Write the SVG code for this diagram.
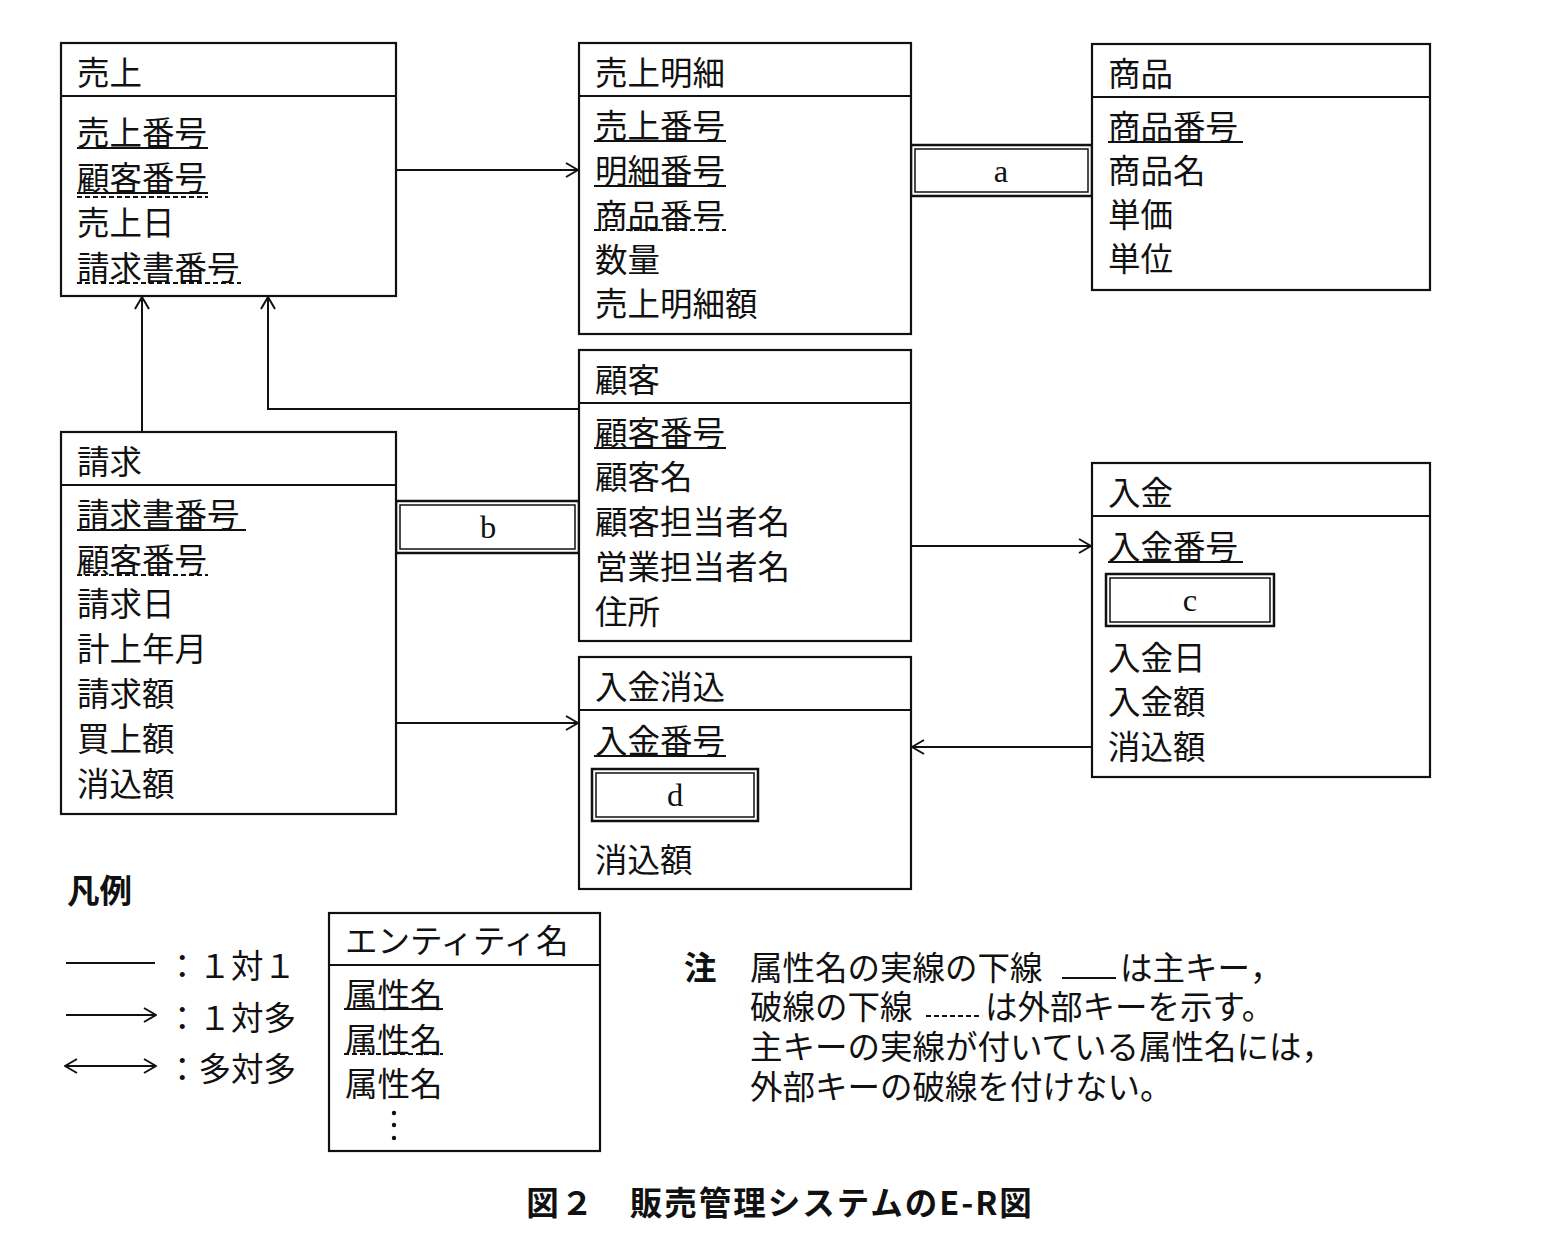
<svg xmlns="http://www.w3.org/2000/svg" width="1556" height="1248" viewBox="0 0 1556 1248">
<style>
text{font-family:"Noto Sans CJK JP","Liberation Sans",sans-serif;font-size:32.5px;fill:#111;dominant-baseline:central}
.box{fill:#fff;stroke:#111;stroke-width:2.2}
.ln{stroke:#111;stroke-width:2;fill:none}
.pk{stroke:#111;stroke-width:2}
.fk{stroke:#111;stroke-width:2;stroke-dasharray:5 3}
.lat{font-family:"Liberation Serif",serif}
</style>
<defs>
<marker id="ar" viewBox="0 0 14 16" refX="13" refY="8" markerWidth="14" markerHeight="16" markerUnits="userSpaceOnUse" orient="auto-start-reverse">
<path d="M1,1 L13,8 L1,15" fill="none" stroke="#111" stroke-width="2"/>
</marker>
</defs>
<rect width="1556" height="1248" fill="#fff"/>

<g id="connectors">
<line class="ln" x1="396" y1="170" x2="578" y2="170" marker-end="url(#ar)"/>
<line class="ln" x1="142" y1="432" x2="142" y2="297" marker-end="url(#ar)"/>
<polyline class="ln" points="579,409 268,409 268,297" marker-end="url(#ar)"/>
<line class="ln" x1="911" y1="546" x2="1091" y2="546" marker-end="url(#ar)"/>
<line class="ln" x1="396" y1="723" x2="578" y2="723" marker-end="url(#ar)"/>
<line class="ln" x1="1092" y1="747" x2="912" y2="747" marker-end="url(#ar)"/>
<g id="blank-a"><rect x="911" y="145" width="181" height="51" fill="#fff" stroke="#111" stroke-width="2.5"/><rect x="915" y="149" width="173" height="43" fill="none" stroke="#111" stroke-width="1.5"/><text class="lat" x="1001" y="171" text-anchor="middle">a</text></g>
<g id="blank-b"><rect x="396" y="501" width="183" height="52" fill="#fff" stroke="#111" stroke-width="2.5"/><rect x="400" y="505" width="175" height="44" fill="none" stroke="#111" stroke-width="1.5"/><text class="lat" x="488" y="527" text-anchor="middle">b</text></g>
</g>

<g id="uriage">
<rect class="box" x="61" y="43" width="335" height="253"/><line class="ln" x1="61" y1="96" x2="396" y2="96"/>
<text x="77" y="70">売上</text>
<text x="77" y="130">売上番号</text><line class="pk" x1="77" y1="148" x2="208" y2="148"/>
<text x="77" y="175">顧客番号</text><line class="pk" x1="77" y1="193" x2="208" y2="193"/><line class="fk" x1="77" y1="197" x2="208" y2="197"/>
<text x="77" y="220">売上日</text>
<text x="77" y="265">請求書番号</text><line class="fk" x1="77" y1="283" x2="241" y2="283"/>
</g>

<g id="uriage-meisai">
<rect class="box" x="579" y="43" width="332" height="291"/><line class="ln" x1="579" y1="96" x2="911" y2="96"/>
<text x="595" y="70">売上明細</text>
<text x="595" y="123">売上番号</text><line class="pk" x1="594" y1="141" x2="726" y2="141"/>
<text x="595" y="168">明細番号</text><line class="pk" x1="594" y1="186" x2="726" y2="186"/>
<text x="595" y="213">商品番号</text><line class="fk" x1="594" y1="230" x2="726" y2="230"/>
<text x="595" y="257">数量</text>
<text x="595" y="301">売上明細額</text>
</g>

<g id="shohin">
<rect class="box" x="1092" y="44" width="338" height="246"/><line class="ln" x1="1092" y1="97" x2="1430" y2="97"/>
<text x="1108" y="71">商品</text>
<text x="1108" y="124">商品番号</text><line class="pk" x1="1108" y1="142" x2="1243" y2="142"/>
<text x="1108" y="168">商品名</text>
<text x="1108" y="212">単価</text>
<text x="1108" y="256">単位</text>
</g>

<g id="kokyaku">
<rect class="box" x="579" y="350" width="332" height="291"/><line class="ln" x1="579" y1="403" x2="911" y2="403"/>
<text x="595" y="377">顧客</text>
<text x="595" y="430">顧客番号</text><line class="pk" x1="594" y1="448" x2="726" y2="448"/>
<text x="595" y="474">顧客名</text>
<text x="595" y="519">顧客担当者名</text>
<text x="595" y="564">営業担当者名</text>
<text x="595" y="609">住所</text>
</g>

<g id="seikyu">
<rect class="box" x="61" y="432" width="335" height="382"/><line class="ln" x1="61" y1="485" x2="396" y2="485"/>
<text x="77" y="459">請求</text>
<text x="77" y="512">請求書番号</text><line class="pk" x1="77" y1="530" x2="246" y2="530"/>
<text x="77" y="557">顧客番号</text><line class="fk" x1="77" y1="575" x2="208" y2="575"/>
<text x="77" y="601">請求日</text>
<text x="77" y="646">計上年月</text>
<text x="77" y="691">請求額</text>
<text x="77" y="736">買上額</text>
<text x="77" y="781">消込額</text>
</g>

<g id="nyukin">
<rect class="box" x="1092" y="463" width="338" height="314"/><line class="ln" x1="1092" y1="516" x2="1430" y2="516"/>
<text x="1108" y="490">入金</text>
<text x="1108" y="544">入金番号</text><line class="pk" x1="1108" y1="562" x2="1243" y2="562"/>
<rect x="1106" y="574" width="168" height="52" fill="#fff" stroke="#111" stroke-width="2.5"/><rect x="1110" y="578" width="160" height="44" fill="none" stroke="#111" stroke-width="1.5"/><text class="lat" x="1190" y="600" text-anchor="middle">c</text>
<text x="1108" y="655">入金日</text>
<text x="1108" y="699">入金額</text>
<text x="1108" y="744">消込額</text>
</g>

<g id="nyukin-keshikomi">
<rect class="box" x="579" y="657" width="332" height="232"/><line class="ln" x1="579" y1="710" x2="911" y2="710"/>
<text x="595" y="684">入金消込</text>
<text x="595" y="738">入金番号</text><line class="pk" x1="594" y1="756" x2="726" y2="756"/>
<rect x="592" y="769" width="166" height="52" fill="#fff" stroke="#111" stroke-width="2.5"/><rect x="596" y="773" width="158" height="44" fill="none" stroke="#111" stroke-width="1.5"/><text class="lat" x="675" y="795" text-anchor="middle">d</text>
<text x="595" y="857">消込額</text>
</g>

<g id="legend">
<text x="67" y="888" font-weight="bold" font-size="28">凡例</text>
<line class="ln" x1="66" y1="963" x2="155" y2="963"/>
<text x="166" y="963">：１対１</text>
<line class="ln" x1="66" y1="1015" x2="156" y2="1015" marker-end="url(#ar)"/>
<text x="166" y="1015">：１対多</text>
<line class="ln" x1="65" y1="1066" x2="156" y2="1066" marker-start="url(#ar)" marker-end="url(#ar)"/>
<text x="166" y="1066">：多対多</text>
<rect class="box" x="329" y="913" width="271" height="238"/><line class="ln" x1="329" y1="965" x2="600" y2="965"/>
<text x="345" y="938">エンティティ名</text>
<text x="345" y="992">属性名</text><line class="pk" x1="344" y1="1009" x2="443" y2="1009"/>
<text x="345" y="1037">属性名</text><line class="fk" x1="344" y1="1054" x2="443" y2="1054"/>
<text x="345" y="1081">属性名</text>
<circle cx="394" cy="1113" r="2.2" fill="#111"/><circle cx="394" cy="1125" r="2.2" fill="#111"/><circle cx="394" cy="1138" r="2.2" fill="#111"/>
</g>

<g id="note">
<text x="684" y="965" font-weight="bold">注</text>
<text x="750" y="965">属性名の実線の下線</text>
<line class="pk" x1="1062" y1="978" x2="1116" y2="978"/>
<text x="1120" y="965">は主キー，</text>
<text x="750" y="1004">破線の下線</text>
<line class="fk" x1="926" y1="1016" x2="980" y2="1016"/>
<text x="985" y="1004">は外部キーを示す。</text>
<text x="750" y="1044">主キーの実線が付いている属性名には，</text>
<text x="750" y="1084">外部キーの破線を付けない。</text>
</g>

<text x="780" y="1200" text-anchor="middle" font-weight="bold" font-size="34" letter-spacing="2">図２　販売管理システムのE-R図</text>
</svg>
